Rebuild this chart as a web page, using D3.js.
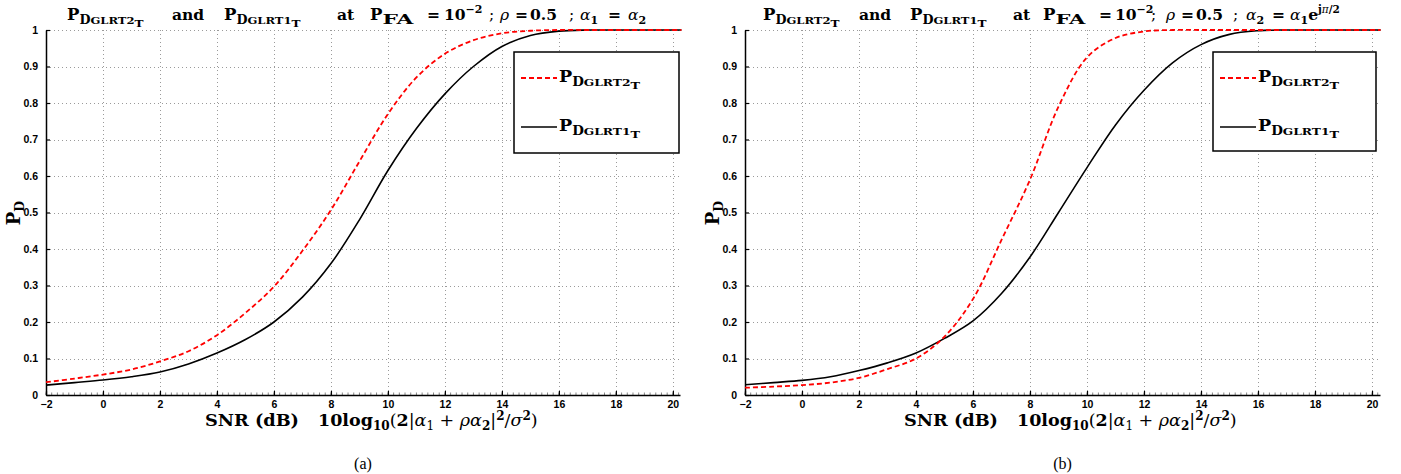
<!DOCTYPE html>
<html>
<head>
<meta charset="utf-8">
<script src="https://cdn.jsdelivr.net/npm/d3@7/dist/d3.min.js"></script>
<style>
  html, body { margin: 0; padding: 0; background: #fff; }
  svg { display: block; }
  text { white-space: pre; }
</style>
</head>
<body>
<svg id="fig" width="1401" height="474"></svg>
<script>
// SNR grid (dB) shared by both panels
const snr = [-2, -1, 0, 1, 2, 3, 4, 5, 6, 7, 8, 9, 10, 11, 12, 13, 14, 15, 16, 17, 18, 19, 20, 20.3];

// (a) alpha1 = alpha2
const pdGlrt2A = [0.035, 0.045, 0.056, 0.07, 0.092, 0.12, 0.164, 0.225, 0.297, 0.395, 0.507, 0.64, 0.77, 0.87, 0.935, 0.972, 0.991, 0.998, 1, 1, 1, 1, 1, 1];
const pdGlrt1A = [0.027, 0.034, 0.041, 0.05, 0.063, 0.085, 0.115, 0.152, 0.2, 0.268, 0.36, 0.48, 0.615, 0.73, 0.825, 0.9, 0.955, 0.985, 0.997, 1, 1, 1, 1, 1];

// (b) alpha2 = alpha1 e^{j pi/2}
const pdGlrt2B = [0.02, 0.023, 0.027, 0.034, 0.047, 0.071, 0.1, 0.16, 0.263, 0.425, 0.59, 0.79, 0.925, 0.978, 0.996, 1, 1, 1, 1, 1, 1, 1, 1, 1];
const pdGlrt1B = [0.028, 0.034, 0.04, 0.05, 0.067, 0.088, 0.115, 0.155, 0.203, 0.278, 0.378, 0.5, 0.623, 0.74, 0.835, 0.91, 0.96, 0.988, 0.998, 1, 1, 1, 1, 1];

const xTicks = [-2, 0, 2, 4, 6, 8, 10, 12, 14, 16, 18, 20];
const xTickLabels = ["\u22122", "0", "2", "4", "6", "8", "10", "12", "14", "16", "18", "20"];
const yTicks = [0, 0.1, 0.2, 0.3, 0.4, 0.5, 0.6, 0.7, 0.8, 0.9, 1];
const yTickLabels = ["0", "0.1", "0.2", "0.3", "0.4", "0.5", "0.6", "0.7", "0.8", "0.9", "1"];

const svg = d3.select("#fig");
const SERIF = "'DejaVu Serif', serif";
const SANS = "'Liberation Sans', Arial, sans-serif";

// Rich text helper: segments of
// {t, s: size, o: baseline offset, it: italic, n: normal weight, x: absolute start, w: forced width}
function rich(g, x, y, segs, anchor, base) {
  const txt = g.append("text")
    .attr("x", x).attr("y", y)
    .attr("text-anchor", anchor || "start")
    .attr("font-family", SERIF)
    .attr("font-weight", "bold")
    .attr("fill", "#000");
  let cur = 0;
  segs.forEach(sg => {
    const off = sg.o || 0;
    const ts = txt.append("tspan")
      .attr("dy", off - cur)
      .attr("font-size", sg.s || base)
      .text(sg.t);
    if (sg.x !== undefined) ts.attr("x", sg.x);
    if (sg.it) ts.attr("font-style", "italic");
    if (sg.n) ts.attr("font-weight", "normal");
    if (sg.w) ts.attr("textLength", sg.w).attr("lengthAdjust", "spacingAndGlyphs");
    cur = off;
  });
  return txt;
}

// P_{D_{GLRTi_T}} built from tspans
function pdSegs(idx, k, x0) {
  return [
    { t: "P", s: 16.5 * k, x: x0 },
    { t: "D", s: 12.5 * k, o: 3.5 * k, w: 11 * k },
    { t: "GLRT" + idx, s: 9.5 * k, o: 3.5 * k, w: 44 * k },
    { t: "T", s: 9.5 * k, o: 7 * k, w: 9 * k }
  ];
}
const T = 15.5;  // title text size

const panels = [
  {
    left: 46, right: 680, xmax: 20.25, a: pdGlrt2A, b: pdGlrt1A, cap: "(a)",
    legend: { x: 514, y: 52, w: 165, h: 101 },
    title: [].concat(
      pdSegs("2", 1, 67), [{ t: "and", s: T, x: 172 }],
      pdSegs("1", 1, 224), [{ t: "at", s: T, x: 337 }, { t: "P", s: 16.5, x: 370 }, { t: "FA", s: 12, o: 3.5, w: 31 },
        { t: "=", s: T, x: 427 }, { t: "10", s: T, x: 444 }, { t: "\u22122", s: 11, o: -7 },
        { t: ";", s: T, n: true, x: 489 },
        { t: "\u03C1", s: T, it: true, n: true, x: 500 }, { t: "=", s: T, x: 515 }, { t: "0.5", s: T, x: 530 },
        { t: ";", s: T, n: true, x: 569 },
        { t: "\u03B1", s: T, it: true, n: true, x: 580 }, { t: "1", s: 11, o: 3.5 }, { t: "=", s: T, x: 608, o: 0 },
        { t: "\u03B1", s: T, it: true, n: true, x: 628 }, { t: "2", s: 11, o: 3.5 }]
    )
  },
  {
    left: 745, right: 1380, xmax: 20.28, a: pdGlrt2B, b: pdGlrt1B, cap: "(b)",
    legend: { x: 1213, y: 52, w: 163, h: 99 },
    title: [].concat(
      pdSegs("2", 1, 763), [{ t: "and", s: T, x: 859 }],
      pdSegs("1", 1, 910), [{ t: "at", s: T, x: 1013 }, { t: "P", s: 16.5, x: 1043 }, { t: "FA", s: 12, o: 3.5, w: 30 },
        { t: "=", s: T, x: 1099 }, { t: "10", s: T, x: 1115 }, { t: "\u22122", s: 11, o: -7 },
        { t: ";", s: T, n: true, x: 1151 },
        { t: "\u03C1", s: T, it: true, n: true, x: 1166 }, { t: "=", s: T, x: 1181 }, { t: "0.5", s: T, x: 1196 },
        { t: ";", s: T, n: true, x: 1233 },
        { t: "\u03B1", s: T, it: true, n: true, x: 1246 }, { t: "2", s: 11, o: 3.5 }, { t: "=", s: T, x: 1272, o: 0 },
        { t: "\u03B1", s: T, it: true, n: true, x: 1290 }, { t: "1", s: 11, o: 3.5 }, { t: "e", s: T, o: 0 },
        { t: "j", s: 10.5, o: -7 }, { t: "\u03C0", s: 10.5, it: true, n: true, o: -7 }, { t: "/2", s: 10.5, o: -7 }]
    )
  }
];

const plotTop = 30, plotBottom = 395;

panels.forEach(p => {
  const g = svg.append("g");
  const x = d3.scaleLinear().domain([-2, p.xmax]).range([p.left, p.right]);
  const y = d3.scaleLinear().domain([0, 1]).range([plotBottom, plotTop]);
  const cx = (p.left + p.right) / 2;
  const dx = p.left - 46;

  // dotted grid
  const grid = g.append("g").attr("stroke", "#9a9a9a").attr("stroke-width", 1)
    .attr("stroke-dasharray", "1,3");
  xTicks.filter(v => v > -2).forEach(v => {
    grid.append("line").attr("x1", Math.round(x(v)) + 0.5).attr("x2", Math.round(x(v)) + 0.5)
      .attr("y1", plotBottom).attr("y2", plotTop);
  });
  yTicks.filter(v => v > 0).forEach(v => {
    grid.append("line").attr("y1", Math.round(y(v)) + 0.5).attr("y2", Math.round(y(v)) + 0.5)
      .attr("x1", p.left).attr("x2", p.right);
  });

  // minor ticks along the bottom axis
  const minor = d3.range(-2, p.xmax, 0.2);
  g.append("g").selectAll("line").data(minor).join("line")
    .attr("x1", d => x(d)).attr("x2", d => x(d))
    .attr("y1", plotBottom).attr("y2", plotBottom - 2.5)
    .attr("stroke", "#666").attr("stroke-width", 0.8);

  // x axis
  const xAxis = d3.axisBottom(x).tickValues(xTicks)
    .tickFormat((d, i) => xTickLabels[i]).tickSizeInner(-4).tickSizeOuter(0).tickPadding(6);
  const gx = g.append("g").attr("transform", `translate(0,${plotBottom})`).call(xAxis);
  gx.select(".domain").attr("stroke", "#000").attr("stroke-width", 1.5);
  gx.selectAll(".tick line").attr("stroke", "#000").attr("stroke-width", 1.2);
  gx.selectAll(".tick text").attr("font-family", SANS).attr("font-weight", "bold")
    .attr("font-size", 10.5).attr("fill", "#000");

  // y axis
  const yAxis = d3.axisLeft(y).tickValues(yTicks)
    .tickFormat((d, i) => yTickLabels[i]).tickSizeInner(-4).tickSizeOuter(0).tickPadding(8);
  const gy = g.append("g").attr("transform", `translate(${p.left},0)`).call(yAxis);
  gy.select(".domain").attr("stroke", "#000").attr("stroke-width", 1.5);
  gy.selectAll(".tick line").attr("stroke", "#000").attr("stroke-width", 1.2);
  gy.selectAll(".tick text").attr("font-family", SANS).attr("font-weight", "bold")
    .attr("font-size", 10.5).attr("fill", "#000");

  // curves
  const line = d3.line().x((d, i) => x(snr[i])).y(d => y(d)).curve(d3.curveCatmullRom.alpha(0.5));
  g.append("path").datum(p.b).attr("d", line).attr("fill", "none")
    .attr("stroke", "#000").attr("stroke-width", 1.6);
  g.append("path").datum(p.a).attr("d", line).attr("fill", "none")
    .attr("stroke", "#ff0000").attr("stroke-width", 1.8).attr("stroke-dasharray", "5,3");

  // legend
  const L = p.legend;
  const lg = g.append("g");
  lg.append("rect").attr("x", L.x).attr("y", L.y).attr("width", L.w).attr("height", L.h)
    .attr("fill", "#fff").attr("stroke", "#000").attr("stroke-width", 1.5);
  const ly1 = L.y + 26, ly2 = L.y + 75;
  lg.append("line").attr("x1", L.x + 7).attr("x2", L.x + 43).attr("y1", ly1).attr("y2", ly1)
    .attr("stroke", "#ff0000").attr("stroke-width", 1.8).attr("stroke-dasharray", "5,3");
  lg.append("line").attr("x1", L.x + 7).attr("x2", L.x + 43).attr("y1", ly2).attr("y2", ly2)
    .attr("stroke", "#000").attr("stroke-width", 1.6);
  rich(lg, 0, ly1 + 4, pdSegs("2", 1.06, L.x + 45), "start");
  rich(lg, 0, ly2 + 4, pdSegs("1", 1.06, L.x + 45), "start");

  // title
  rich(g, 0, 20, p.title, "start", T);

  // axis labels
  rich(g, 0, 426, [
    { t: "SNR (dB)", s: 17.5, x: 205 + dx, w: 94 }, { t: "10log", s: 17.5, x: 318 + dx }, { t: "10", s: 12, o: 4 },
    { t: "(", s: 17.5, n: true, o: 0 }, { t: "2", s: 17.5 },
    { t: "|", s: 17.5, n: true },
    { t: "\u03B1", s: 17.5, it: true, n: true }, { t: "1", s: 12, o: 4, n: true },
    { t: " + ", s: 17.5, n: true, o: 0 }, { t: "\u03C1\u03B1", s: 17.5, it: true, n: true },
    { t: "2", s: 12, o: 4 }, { t: "|", s: 17.5, n: true, o: 0 }, { t: "2", s: 12, o: -6 },
    { t: "/", s: 17.5, n: true, o: 0 }, { t: "\u03C3", s: 17.5, it: true, n: true }, { t: "2", s: 12, o: -6 },
    { t: ")", s: 17.5, n: true, o: 0 }
  ], "start", 17.5);

  const yl = g.append("g").attr("transform", `translate(${p.left - 26},213) rotate(-90)`);
  rich(yl, 0, 0, [{ t: "P", s: 18 }, { t: "D", s: 12.5, o: 4 }], "middle");

  // panel caption
  g.append("text").attr("x", cx + 0).attr("y", 469).attr("text-anchor", "middle")
    .attr("font-family", "'Liberation Serif', serif").attr("font-size", 16).text(p.cap);
});
</script>
</body>
</html>
